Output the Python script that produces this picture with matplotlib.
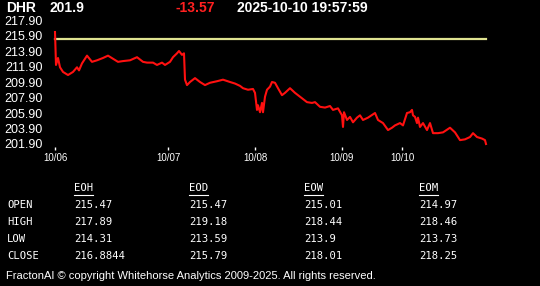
import matplotlib
matplotlib.use("Agg")
import matplotlib.pyplot as plt
from matplotlib.lines import Line2D

# ---- data ----
symbol = "DHR"
last_price = "201.9"
change = "-13.57"
timestamp = "2025-10-10 19:57:59"
prev_close = 215.47

t = [0, 1, 3, 5, 8, 13, 18, 22, 24, 27, 32, 37, 42, 48, 53, 58, 63, 68, 75, 82, 88,
     92, 98, 102, 107, 110, 115, 118, 122, 124, 127, 129, 130, 132, 135, 140, 145, 150,
     155, 162, 168, 175, 180, 185, 188, 193, 198, 200, 202, 203, 205, 207, 208, 210,
     212, 215, 217, 220, 223, 227, 230, 235, 240, 243, 247, 252, 257, 260, 265, 270,
     275, 278, 283, 287, 288, 289, 292, 295, 298, 302, 305, 308, 313, 320, 323, 328,
     333, 337, 340, 345, 348, 352, 355, 357, 358, 360, 362, 363, 365, 368, 372, 375,
     378, 383, 388, 395, 400, 405, 410, 415, 418, 422, 427, 430, 431]
price = [216.35, 212.1, 213.0, 211.8, 211.2, 210.8, 211.2, 211.8, 211.4, 212.3, 213.3,
         212.5, 212.7, 213.0, 213.3, 212.9, 212.5, 212.6, 212.7, 213.1, 212.5, 212.4,
         212.4, 212.1, 212.4, 212.1, 212.5, 213.1, 213.6, 213.9, 213.4, 213.6, 210.2,
         209.5, 209.9, 210.4, 209.9, 209.5, 209.8, 210.0, 210.2, 209.9, 209.7, 209.4,
         209.1, 208.9, 209.0, 208.5, 206.3, 206.9, 206.0, 207.2, 206.0, 208.0, 208.9,
         209.3, 209.9, 209.8, 209.1, 208.2, 208.5, 209.1, 208.5, 208.2, 207.8, 207.3,
         207.2, 207.3, 206.7, 206.6, 206.8, 206.3, 206.5, 205.6, 204.1, 206.0, 205.0,
         205.4, 204.7, 205.3, 205.6, 205.0, 205.3, 205.9, 205.0, 204.6, 203.7, 204.0,
         204.3, 204.6, 204.3, 205.9, 206.0, 206.3, 205.6, 205.4, 204.6, 205.3, 204.1,
         204.6, 203.7, 204.6, 203.3, 203.3, 203.4, 204.0, 203.4, 202.4, 202.5, 202.8,
         203.3, 202.8, 202.6, 202.4, 201.9]

tick_pos = [0, 113, 200, 287, 347]
tick_labels = ["10/06", "10/07", "10/08", "10/09", "10/10"]
yticks = [201.9, 203.9, 205.9, 207.9, 209.9, 211.9, 213.9, 215.9, 217.9]

columns = ["EOH", "EOD", "EOW", "EOM"]
rows = ["OPEN", "HIGH", "LOW", "CLOSE"]
eoh = ["215.47", "217.89", "214.31", "216.8844"]
eod = ["215.47", "219.18", "213.59", "215.79"]
eow = ["215.01", "218.44", "213.9", "218.01"]
eom = ["214.97", "218.46", "213.73", "218.25"]
footer = "FractonAI \u00a9 copyright Whitehorse Analytics 2009-2025. All rights reserved."

# ---- figure ----
W, H = 540, 286
fig = plt.figure(figsize=(W / 100, H / 100), dpi=100, facecolor="black")

def fx(x):
    return x / W

def fy(y):
    return 1 - y / H

# axes in pixel coords: left 50, right 540, top 16, bottom 150
ax = fig.add_axes([fx(50), fy(150), fx(490), (150 - 16) / H])
ax.set_facecolor("black")
for s in ax.spines.values():
    s.set_visible(False)

ax.plot([t[0], t[-1]], [prev_close, prev_close], color="#dfe391", lw=1.6)
ax.plot(t, price, color="#ff1010", lw=1.5)

ax.set_xlim(-5, 485)
ax.set_ylim(201.9 - 6 / 7.75, 201.9 + 128 / 7.75)
ax.set_yticks(yticks)
ax.set_yticklabels([f"{v:.2f}" for v in yticks])
ax.set_xticks(tick_pos)
ax.set_xticklabels(tick_labels)
ax.tick_params(axis="y", length=0, pad=5, labelcolor="white", labelsize=9)
ax.tick_params(axis="x", length=2, width=1, color="white", direction="in", pad=2,
               labelcolor="white", labelsize=7)
for lbl in ax.get_yticklabels() + ax.get_xticklabels():
    lbl.set_fontfamily("Liberation Sans")

# header
hdr = dict(fontfamily="Liberation Sans", fontweight="bold", fontsize=10, va="top")
fig.text(fx(6), fy(1), symbol, color="white", **hdr)
fig.text(fx(50), fy(1), last_price, color="white", **hdr)
fig.text(fx(175), fy(1), change, color="#ff2020", **hdr)
fig.text(fx(237), fy(1), timestamp, color="white", **hdr)

# table
mono = dict(fontfamily="DejaVu Sans Mono", fontsize=7.6, color="white", va="center")
col_x = [74, 189, 304, 419]
row_y = [205, 222, 239, 256]
fig.canvas.draw()
renderer = fig.canvas.get_renderer()
for cx, name in zip(col_x, columns):
    txt = fig.text(fx(cx), fy(188), name, **mono)
    bb = txt.get_window_extent(renderer)
    fig.add_artist(Line2D([bb.x0 / W, bb.x1 / W], [fy(195), fy(195)],
                          color="white", lw=0.8, transform=fig.transFigure))
for ry, rname in zip(row_y, rows):
    fig.text(fx(7), fy(ry), rname, **mono)
for cx, vals in zip(col_x, [eoh, eod, eow, eom]):
    for ry, v in zip(row_y, vals):
        fig.text(fx(cx), fy(ry), v, **mono)

fig.text(fx(6), fy(276), footer, fontfamily="Liberation Sans", fontsize=8,
         color="white", va="center")

fig.savefig("out.png", dpi=100, facecolor="black")
